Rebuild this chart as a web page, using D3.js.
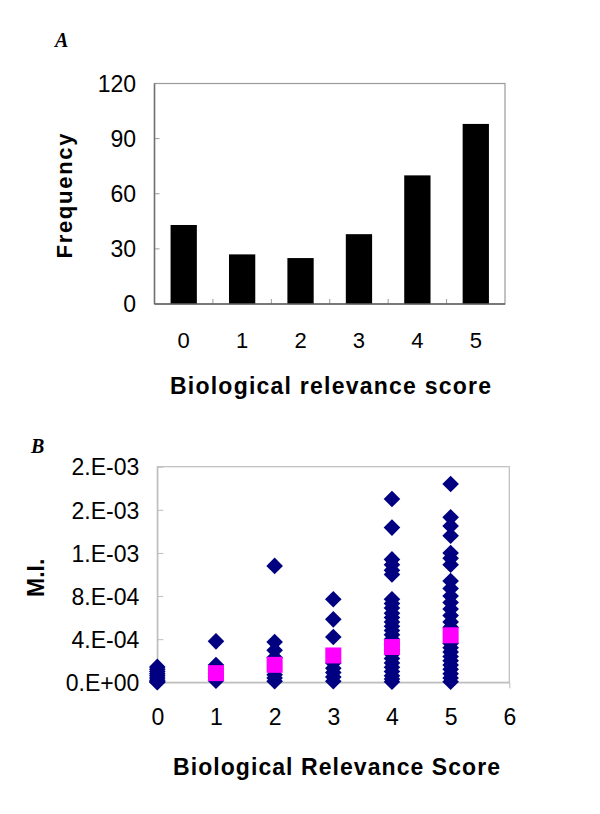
<!DOCTYPE html>
<html>
<head>
<meta charset="utf-8">
<script src="https://cdn.jsdelivr.net/npm/d3@7"></script>
<style>
  html, body { margin: 0; padding: 0; background: #fff; }
  svg { display: block; }
  text { font-family: "Liberation Sans", Arial, sans-serif; fill: #000; }
</style>
</head>
<body>
<svg id="chart" width="600" height="814"></svg>
<script>
// ---------- Data ----------
// Panel A: histogram of biological relevance scores
const scoreCategories = [0, 1, 2, 3, 4, 5];
const frequency = [43, 27, 25, 38, 70, 98];
const freqTicks = [0, 30, 60, 90, 120];

// Panel B: mutual information (M.I.) per gene, by score
const miScore0 = [1.43e-4, 1.2e-4, 1.0e-4, 0.8e-4, 0.6e-4, 0.4e-4, 0.2e-4, 0.05e-4, 0];
const miScore1 = [3.8e-4, 1.6e-4, 1.2e-4, 0.8e-4, 0.5e-4, 0.15e-4];
const miScore2 = [1.08e-3, 3.74e-4, 2.97e-4, 2.3e-4, 0.7e-4, 0.4e-4, 0.1e-4];
const miScore3 = [7.7e-4, 5.84e-4, 4.2e-4, 1.8e-4, 1.3e-4, 0.9e-4, 0.5e-4, 0.1e-4];
const miScore4 = [1.70e-3, 1.435e-3, 1.14e-3, 1.09e-3, 1.04e-3, 1.0e-3,
                  7.7e-4, 7.3e-4, 6.9e-4, 6.4e-4, 6.0e-4, 5.6e-4, 5.2e-4, 4.8e-4, 4.4e-4, 4.0e-4,
                  3.5e-4, 3.0e-4, 2.6e-4, 2.2e-4, 1.8e-4, 1.4e-4, 1.0e-4, 0.6e-4, 0.3e-4, 0.05e-4];
const miScore5 = [1.84e-3, 1.53e-3, 1.45e-3, 1.36e-3, 1.20e-3, 1.15e-3, 1.09e-3,
                  9.4e-4, 8.7e-4, 8.0e-4, 7.4e-4, 6.8e-4, 6.2e-4, 5.6e-4, 5.1e-4,
                  3.6e-4, 3.2e-4, 2.8e-4, 2.4e-4, 2.0e-4, 1.6e-4, 1.2e-4, 0.8e-4, 0.4e-4, 0.05e-4];
const meanScores = [1, 2, 3, 4, 5];
const meanMI = [0.85e-4, 1.62e-4, 2.49e-4, 3.27e-4, 4.36e-4];
const miTickValues = [0, 0.0004, 0.0008, 0.0012, 0.0016, 0.0020];
const miTickLabels = ["0.E+00", "4.E-04", "8.E-04", "1.E-03", "2.E-03", "2.E-03"];
const scoreTicksB = [0, 1, 2, 3, 4, 5, 6];

const svg = d3.select("#chart");

// ---------- Panel A ----------
const A = { left: 154.5, right: 505, top: 83.5, bottom: 304 };
const xA = d3.scaleBand().domain(scoreCategories).range([A.left, A.right])
  .paddingInner(0.55).paddingOuter(0.275);
const xAedge = d3.scaleLinear().domain([0, scoreCategories.length]).range([A.left, A.right]);
const yA = d3.scaleLinear().domain([0, 120]).range([A.bottom, A.top]);

const gA = svg.append("g");
gA.append("rect").attr("x", A.left).attr("y", A.top)
  .attr("width", A.right - A.left).attr("height", A.bottom - A.top)
  .attr("fill", "none").attr("stroke", "#9a9a9a").attr("stroke-width", 1.2);
gA.selectAll(".ytA").data(freqTicks.slice(1, -1)).join("line")
  .attr("x1", A.left).attr("x2", A.left + 5)
  .attr("y1", d => yA(d)).attr("y2", d => yA(d))
  .attr("stroke", "#9a9a9a").attr("stroke-width", 1);
gA.selectAll(".xtA").data(d3.range(1, scoreCategories.length)).join("line")
  .attr("x1", d => xAedge(d)).attr("x2", d => xAedge(d))
  .attr("y1", A.bottom).attr("y2", A.bottom - 5)
  .attr("stroke", "#9a9a9a").attr("stroke-width", 1);
gA.selectAll(".bar").data(frequency).join("rect")
  .attr("x", (d, i) => xA(scoreCategories[i]))
  .attr("width", xA.bandwidth())
  .attr("y", d => yA(d))
  .attr("height", d => A.bottom - yA(d))
  .attr("fill", "#000");
gA.append("line").attr("x1", A.left).attr("x2", A.left).attr("y1", A.top).attr("y2", A.bottom)
  .attr("stroke", "#707070").attr("stroke-width", 1.5);
gA.append("line").attr("x1", A.left).attr("x2", A.right).attr("y1", A.bottom).attr("y2", A.bottom)
  .attr("stroke", "#606060").attr("stroke-width", 1.5);
gA.selectAll(".ylA").data(freqTicks).join("text")
  .attr("x", 136).attr("y", d => yA(d)).attr("dy", "0.36em")
  .attr("text-anchor", "end").attr("font-size", 23).text(d => d);
gA.selectAll(".xlA").data(scoreCategories).join("text")
  .attr("x", d => xA(d) + xA.bandwidth() / 2).attr("y", 348)
  .attr("text-anchor", "middle").attr("font-size", 22).text(d => d);
gA.append("text").attr("x", 170).attr("y", 394).attr("font-size", 23).attr("font-weight", "bold")
  .attr("textLength", 321).attr("lengthAdjust", "spacing").text("Biological relevance score");
gA.append("text").attr("transform", "translate(72,258.5) rotate(-90)")
  .attr("font-size", 22).attr("font-weight", "bold")
  .attr("textLength", 125).attr("lengthAdjust", "spacing").text("Frequency");
gA.append("text").attr("x", 55).attr("y", 47)
  .style("font-family", "'Liberation Serif', 'Times New Roman', serif")
  .attr("font-size", 20).attr("font-weight", "bold").attr("font-style", "italic").text("A");

// ---------- Panel B ----------
const B = { left: 157.3, right: 509.3, top: 466.7, bottom: 682.3 };
const xB = d3.scaleLinear().domain([0, 6]).range([B.left, B.right]);
const yB = d3.scaleLinear().domain([0, 0.002]).range([B.bottom, B.top]);

const gB = svg.append("g");
gB.append("rect").attr("x", B.left).attr("y", B.top)
  .attr("width", B.right - B.left).attr("height", B.bottom - B.top)
  .attr("fill", "none").attr("stroke", "#bdbdbd").attr("stroke-width", 1.2);
const yAxisB = d3.axisLeft(yB).tickValues(miTickValues)
  .tickFormat((d, i) => miTickLabels[i]).tickSizeInner(-6).tickSizeOuter(0).tickPadding(24);
const yg = gB.append("g").attr("transform", `translate(${B.left},0)`).call(yAxisB);
yg.select(".domain").attr("stroke", "#bdbdbd").attr("stroke-width", 1.2);
yg.selectAll(".tick line").attr("stroke", "#bdbdbd");
yg.selectAll(".tick text").attr("font-size", 23).attr("fill", "#000")
  .style("font-family", "'Liberation Sans', Arial, sans-serif").attr("x", 139.3 - B.left).attr("dy", "0.36em");
const xAxisB = d3.axisBottom(xB).tickValues(scoreTicksB).tickFormat(d => d)
  .tickSizeInner(6).tickSizeOuter(0).tickPadding(10);
const xg = gB.append("g").attr("transform", `translate(0,${B.bottom})`).call(xAxisB);
xg.select(".domain").attr("stroke", "#bdbdbd").attr("stroke-width", 1.2);
xg.selectAll(".tick line").attr("stroke", "#bdbdbd");
xg.selectAll(".tick text").attr("font-size", 23).attr("fill", "#000")
  .style("font-family", "'Liberation Sans', Arial, sans-serif").attr("y", 725 - B.bottom).attr("dy", 0);

const miSeries = [miScore0, miScore1, miScore2, miScore3, miScore4, miScore5];
const points = [];
miSeries.forEach((arr, s) => arr.forEach(v => points.push({ s, v })));
const diamond = d3.symbol().type(d3.symbolSquare).size(138)();
gB.selectAll(".pt").data(points).join("path")
  .attr("d", diamond)
  .attr("transform", d => `translate(${xB(d.s)},${yB(d.v)}) rotate(45)`)
  .attr("fill", "#000080");
const sq = d3.symbol().type(d3.symbolSquare).size(256)();
gB.selectAll(".mean").data(meanMI).join("path")
  .attr("d", sq)
  .attr("transform", (d, i) => `translate(${xB(meanScores[i])},${yB(d)})`)
  .attr("fill", "#ff00ff");

gB.append("text").attr("x", 173).attr("y", 775).attr("font-size", 23).attr("font-weight", "bold")
  .attr("textLength", 327).attr("lengthAdjust", "spacing").text("Biological Relevance Score");
gB.append("text").attr("transform", "translate(44,597) rotate(-90)")
  .attr("font-size", 23).attr("font-weight", "bold").text("M.I.");
gB.append("text").attr("x", 31).attr("y", 453)
  .style("font-family", "'Liberation Serif', 'Times New Roman', serif")
  .attr("font-size", 20).attr("font-weight", "bold").attr("font-style", "italic").text("B");
</script>
</body>
</html>
